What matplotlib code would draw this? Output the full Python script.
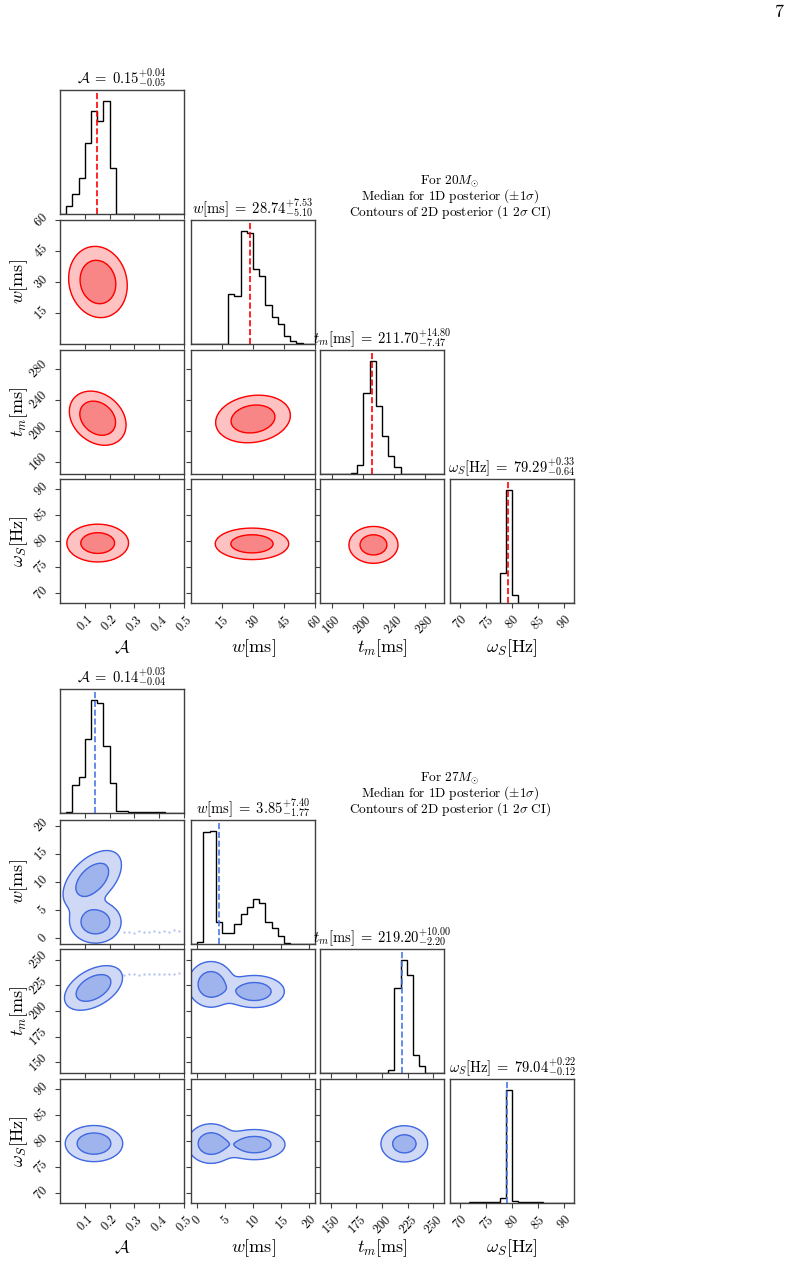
import numpy as np
import matplotlib.pyplot as plt

plt.rcParams['mathtext.fontset'] = 'cm'
plt.rcParams['font.family'] = 'DejaVu Serif'

# parameter names (title / axis labels)
names = [r'\mathcal{A}', r'w[\mathrm{ms}]', r't_m[\mathrm{ms}]', r'\omega_S[\mathrm{Hz}]']

# ---------------- 20 Msun ----------------
range_20 = [(0.0, 0.5), (0.0, 60.0), (145.0, 305.0), (68.0, 92.0)]
ticks_20 = [[0.1, 0.2, 0.3, 0.4, 0.5], [15, 30, 45, 60], [160, 200, 240, 280], [70, 75, 80, 85, 90]]
med_20 = [0.15, 28.74, 211.70, 79.29]
up_20 = [0.04, 7.53, 14.80, 0.33]
lo_20 = [0.05, 5.10, 7.47, 0.64]

hist_20_A = [0, 8, 20, 36, 71, 102, 92, 112, 46, 0, 0, 0, 0, 0, 0, 0, 0, 0, 0, 0]
hist_20_w = [0, 0, 0, 0, 0, 0, 50, 48, 113, 111, 75, 68, 39, 27, 20, 8, 3, 1, 0, 0]
hist_20_tm = [0, 0, 0, 0, 0, 1, 9, 80, 112, 68, 38, 18, 7, 0, 0, 0, 0, 0, 0, 0]
hist_20_wS = [0, 0, 0, 0, 0, 0, 0, 0, 30, 113, 8, 0, 0, 0, 0, 0, 0, 0, 0, 0]

# 2D posterior blobs: centre x, centre y, 1-sigma width x, width y, corr, weight, shape
blob_20_w_A = [[0.153, 30.0, 0.072, 10.5, -0.1, 1.0, 2.8]]
blob_20_tm_A = [[0.152, 217.0, 0.072, 22.0, -0.25, 1.0, 3.0]]
blob_20_wS_A = [[0.152, 79.6, 0.068, 2.0, 0.0, 1.0, 2.3]]
blob_20_tm_w = [[30.0, 216.0, 10.6, 18.0, 0.15, 1.0, 2.6]]
blob_20_wS_w = [[29.5, 79.45, 10.2, 1.75, 0.0, 1.0, 2.5]]
blob_20_wS_tm = [[214.0, 79.25, 17.3, 1.95, 0.0, 1.0, 2.3]]

# ---------------- 27 Msun ----------------
range_27 = [(0.0, 0.5), (-1.05, 21.0), (139.5, 260.5), (68.0, 92.0)]
ticks_27 = [[0.1, 0.2, 0.3, 0.4, 0.5], [0, 5, 10, 15, 20], [150, 175, 200, 225, 250], [70, 75, 80, 85, 90]]
med_27 = [0.14, 3.85, 219.20, 79.04]
up_27 = [0.03, 7.40, 10.00, 0.22]
lo_27 = [0.04, 1.77, 2.20, 0.12]

hist_27_A = [0, 1, 28, 36, 74, 113, 110, 67, 30, 2.3, 1.6, 1.2, 1.0, 0.9, 0.8, 0.7, 0.6, 0.5, 0.5, 0.4]
hist_27_w = [0, 2, 112, 113, 22, 11, 11, 20, 30, 37, 45, 41, 22, 16, 8, 1, 0, 0, 0, 0]
hist_27_tm = [0, 0, 0, 0, 0, 0, 0, 0, 0, 0, 0, 3, 85, 113, 98, 18, 7, 0, 0, 0]
hist_27_wS = [0.3, 0.3, 0.3, 0.6, 0.6, 0.7, 0.7, 0.8, 5, 112, 1.5, 0.8, 0.7, 0.6, 0.5, 0, 0, 0, 0, 0]

blob_27_w_A = [[0.13, 10.4, 0.066, 2.9, 0.5, 1.0, 2.4], [0.143, 2.85, 0.058, 2.1, 0.0, 1.0, 2.4]]
blob_27_tm_A = [[0.135, 222.5, 0.07, 13.0, 0.45, 1.0, 2.7]]
blob_27_wS_A = [[0.137, 79.5, 0.068, 2.05, 0.0, 1.0, 2.6]]
blob_27_tm_w = [[2.5, 226.0, 2.3, 12.5, 0.0, 1.0, 2.4], [10.2, 219.0, 3.0, 8.8, 0.0, 1.0, 2.4]]
blob_27_wS_w = [[2.5, 79.5, 2.3, 2.1, 0.0, 1.0, 2.3], [10.2, 79.3, 3.0, 1.6, 0.0, 1.0, 2.3]]
blob_27_wS_tm = [[221.8, 79.45, 11.4, 1.75, 0.0, 1.0, 2.0]]

# faint low-density samples (tails outside the contours)
tail_27_A = [0.26, 0.28, 0.30, 0.32, 0.34, 0.36, 0.38, 0.40, 0.42, 0.44, 0.46, 0.48]
tail_27_w = [1.0, 1.1, 0.9, 1.2, 1.0, 1.1, 1.3, 1.0, 1.2, 1.1, 1.4, 1.2]
tail_27_tm = [235.5, 235.8, 236.0, 235.6, 236.2, 236.0, 236.4, 236.1, 236.3, 236.5, 236.2, 236.6]

# contour levels as fraction of peak (2 sigma, 1 sigma)
level_fracs = [np.exp(-2.0), np.exp(-0.5)]

W, H = 804, 1264
SIZE = 124
col_x = [60, 191, 320, 450]
rows_top = [90, 220, 350, 479]
rows_bot = [689, 820, 949, 1079]

fig = plt.figure(figsize=(W / 100, H / 100), dpi=100)


def density(blobs, xr, yr, n=300):
    X, Y = np.meshgrid(np.linspace(*xr, n), np.linspace(*yr, n))
    Z = np.zeros_like(X)
    for cx, cy, sx, sy, rho, wt, p in blobs:
        dx = (X - cx) / sx
        dy = (Y - cy) / sy
        q = (dx ** 2 - 2 * rho * dx * dy + dy ** 2) / (1 - rho ** 2)
        Z += wt * np.exp(-0.5 * q ** (p / 2))
    return X, Y, Z


def tlab(vals):
    return [f'${v:g}$' for v in vals]


def corner(rows_y, ranges, ticks, hists, meds, ups, los, blobs, tails,
           line_c, fill_c, med_c, xlab_y, mass, text_y):
    for i in range(4):
        for j in range(i + 1):
            ax = fig.add_axes([col_x[j] / W, 1 - (rows_y[i] + SIZE) / H, SIZE / W, SIZE / H])
            for s in ax.spines.values():
                s.set_color('0.25')
                s.set_linewidth(1.0)
            ax.tick_params(direction='out', length=3.5, width=0.8, color='0.25', labelsize=9)
            if i == j:
                edges = np.linspace(*ranges[i], len(hists[i]) + 1)
                ax.stairs(hists[i], edges, color='k', linewidth=1.0)
                ax.axvline(meds[i], color=med_c, ls='--', lw=1.2)
                ax.set_ylim(0, 1.1 * max(hists[i]))
                ax.set_yticks([])
                ax.set_title(rf'${names[i]}\;=\;{meds[i]:.2f}^{{+{ups[i]:.2f}}}_{{-{los[i]:.2f}}}$',
                             fontsize=10.5, pad=2)
            else:
                if (i, j) in tails:
                    tx, ty = tails[(i, j)]
                    ax.scatter(tx, ty, s=3, color='#b9c8f2', lw=0)
                X, Y, Z = density(blobs[(i, j)], ranges[j], ranges[i])
                zmax = Z.max()
                lv = [zmax * f for f in level_fracs]
                ax.contourf(X, Y, Z, levels=[lv[0], lv[1], zmax * 1.01], colors=fill_c)
                ax.contour(X, Y, Z, levels=lv, colors=line_c, linewidths=1.0)
                ax.set_ylim(ranges[i])
                ax.set_yticks(ticks[i])
                if j == 0:
                    ax.set_yticklabels(tlab(ticks[i]), rotation=45, va='center', ha='right')
                else:
                    ax.set_yticklabels([])
            ax.set_xlim(ranges[j])
            ax.set_xticks(ticks[j])
            if i == 3:
                ax.set_xticklabels(tlab(ticks[j]), rotation=45, ha='center', va='top')
            else:
                ax.set_xticklabels([])

    for k in range(4):
        fig.text((col_x[k] + SIZE / 2) / W, 1 - xlab_y / H, f'${names[k]}$',
                 fontsize=13, ha='center', va='center')
        if k > 0:
            fig.text(19 / W, 1 - (rows_y[k] + SIZE / 2) / H, f'${names[k]}$',
                     fontsize=13, ha='center', va='center', rotation=90)

    lines = [rf'$\mathrm{{For}}\ {mass}M_{{\odot}}$',
             r'$\mathrm{Median\ for\ 1D\ posterior}\ (\pm1\sigma)$',
             r'$\mathrm{Contours\ of\ 2D\ posterior}\ (1\ 2\sigma\ \mathrm{CI})$']
    for k, t in enumerate(lines):
        fig.text(450 / W, 1 - (text_y + 15.5 * k) / H, t, fontsize=9.6, ha='center', va='center')


blobs_20 = {(1, 0): blob_20_w_A, (2, 0): blob_20_tm_A, (3, 0): blob_20_wS_A,
            (2, 1): blob_20_tm_w, (3, 1): blob_20_wS_w, (3, 2): blob_20_wS_tm}
blobs_27 = {(1, 0): blob_27_w_A, (2, 0): blob_27_tm_A, (3, 0): blob_27_wS_A,
            (2, 1): blob_27_tm_w, (3, 1): blob_27_wS_w, (3, 2): blob_27_wS_tm}
tails_27 = {(1, 0): (tail_27_A, tail_27_w), (2, 0): (tail_27_A, tail_27_tm)}

corner(rows_top, range_20, ticks_20, [hist_20_A, hist_20_w, hist_20_tm, hist_20_wS],
       med_20, up_20, lo_20, blobs_20, {}, 'red', ['#ffc2c2', '#f88686'], 'red', 648, 20, 181)
corner(rows_bot, range_27, ticks_27, [hist_27_A, hist_27_w, hist_27_tm, hist_27_wS],
       med_27, up_27, lo_27, blobs_27, tails_27, '#4169e1', ['#cfd9f6', '#9fb3ec'], '#4a78e8',
       1248, 27, 778)

fig.text(779 / W, 1 - 12 / H, r'$\mathrm{7}$', fontsize=13, ha='center', va='center')

fig.savefig('out.png', dpi=100)
